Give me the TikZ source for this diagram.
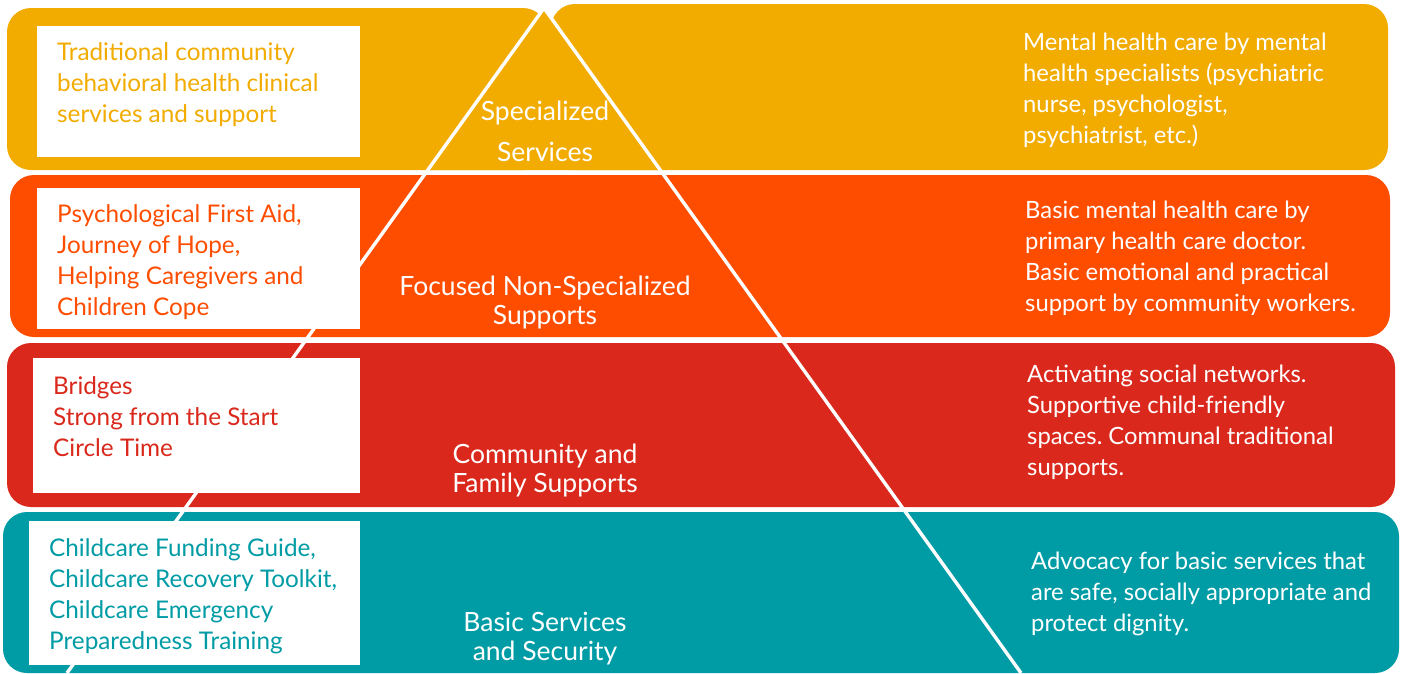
\documentclass[tikz,border=0pt]{standalone}
\usepackage{fontspec}
\setmainfont{Lato}
\usetikzlibrary{positioning}
\definecolor{specc}{RGB}{242,172,0}
\definecolor{focusc}{RGB}{255,77,0}
\definecolor{commc}{RGB}{218,41,28}
\definecolor{basicc}{RGB}{0,156,166}
\frenchspacing

\begin{document}
\begin{tikzpicture}[x=1pt,y=-1pt,
	band/.style={rounded corners=24pt},
	box/.style={fill=white},
	edgeline/.style={white,line width=3.4pt,line join=miter},
	lefttext/.style={anchor=west,align=left,inner sep=0pt,font=\fontsize{24.3}{31}\selectfont},
	righttext/.style={anchor=west,align=left,inner sep=0pt,text=white,font=\fontsize{23.8}{31}\selectfont},
	midtext/.style={align=center,inner sep=0pt,text=white,font=\fontsize{26.5}{29}\selectfont}]
	\useasboundingbox (0,0) rectangle (1401,673);
	% pyramid
	\coordinate (apex) at (544,8);
	\coordinate (baseL) at (67,673);
	\coordinate (baseR) at (1021,673);
	% bands
	\fill[band,specc] (7,8) rectangle (547,170);
	\fill[band,specc] (551,4) rectangle (1388,170);
	\fill[specc] (apex) -- (426,170) -- (662,170) -- cycle;
	\fill[band,focusc] (10,175) rectangle (1390,337);
	\fill[band,commc] (7,343) rectangle (1395,507);
	\fill[band,basicc] (3,512) rectangle (1399,673);
	\draw[edgeline] (baseL) -- (apex) -- (baseR);
	% boxes
	\fill[box] (37,26) rectangle (360,157);
	\fill[box] (37,188) rectangle (360,329);
	\fill[box] (33,358) rectangle (360,493);
	\fill[box] (29,521) rectangle (360,665);
	% programs
	\node[lefttext,text=specc](progS) at (57,85) {Traditional community\\behavioral health clinical\\services and support};
	\node[lefttext,text=focusc](progF) at (57,262) {Psychological First Aid,\\Journey of Hope,\\Helping Caregivers and\\Children Cope};
	\node[lefttext,text=commc](progC) at (53,417) {Bridges\\Strong from the Start\\Circle Time};
	\node[lefttext,text=basicc](progB) at (49,596) {Childcare Funding Guide,\\Childcare Recovery Toolkit,\\Childcare Emergency\\Preparedness Training};
	% levels
	\node[midtext](levS) at (545,131.5) {Specialized\\[12pt]Services};
	\node[midtext](levF) at (545,303) {Focused Non-Specialized\\Supports};
	\node[midtext](levC) at (545,471) {Community and\\Family Supports};
	\node[midtext](levB) at (545,639) {Basic Services\\and Security};
	% descriptions
	\node[righttext](descS) at (1023,90) {Mental health care by mental\\health specialists (psychiatric\\nurse, psychologist,\\psychiatrist, etc.)};
	\node[righttext](descF) at (1025,258) {Basic mental health care by\\primary health care doctor.\\Basic emotional and practical\\support by community workers.};
	\node[righttext](descC) at (1027,422) {Activating social networks.\\Supportive child-friendly\\spaces. Communal traditional\\supports.};
	\node[righttext](descB) at (1031,594) {Advocacy for basic services that\\are safe, socially appropriate and\\protect dignity.};
\end{tikzpicture}
\end{document}
